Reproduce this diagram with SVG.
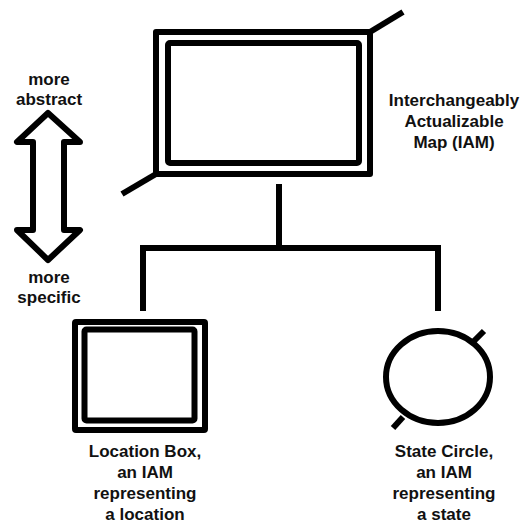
<svg xmlns="http://www.w3.org/2000/svg" width="525" height="527" viewBox="0 0 525 527">
<style>
.ln{stroke:#000;fill:none;stroke-width:6}
.t{font-family:"Liberation Sans",Arial,sans-serif;font-weight:bold;font-size:17px;fill:#111;text-anchor:middle}
</style>
<rect width="525" height="527" fill="#fff"/>
<g id="iam">
<rect class="ln" x="156" y="32" width="214" height="142" stroke-linejoin="round"/>
<rect class="ln" x="168" y="43" width="191" height="120" rx="2" stroke-width="5.5"/>
<line class="ln" x1="370" y1="32" x2="403" y2="12"/>
<line class="ln" x1="156" y1="174" x2="122" y2="194"/>
<text class="t" x="454" y="106">Interchangeably</text>
<text class="t" x="454" y="127">Actualizable</text>
<text class="t" x="454" y="148">Map (IAM)</text>
</g>
<g id="scale">
<polygon class="ln" points="48,113 17,142 33,142 33,230 17,230 48,260 80,230 64,230 64,142 80,142" stroke-linejoin="round"/>
<text class="t" x="49" y="85">more</text>
<text class="t" x="49" y="105">abstract</text>
<text class="t" x="49" y="283">more</text>
<text class="t" x="49" y="303">specific</text>
</g>
<g id="connectors">
<polyline class="ln" points="279,184 279,248"/>
<polyline class="ln" points="143,311 143,248 438,248 438,311"/>
</g>
<g id="location">
<rect class="ln" x="75" y="322" width="130" height="108" rx="1"/>
<rect class="ln" x="84.5" y="329.5" width="110" height="91" rx="2" stroke-width="5"/>
<text class="t" x="145" y="457">Location Box,</text>
<text class="t" x="145" y="478">an IAM</text>
<text class="t" x="145" y="499">representing</text>
<text class="t" x="145" y="520">a location</text>
</g>
<g id="state">
<ellipse class="ln" cx="438" cy="377" rx="52" ry="46" stroke-width="5"/>
<line class="ln" x1="473" y1="342" x2="484" y2="331" stroke-width="5"/>
<line class="ln" x1="403" y1="417" x2="393" y2="428" stroke-width="5"/>
<text class="t" x="444" y="457">State Circle,</text>
<text class="t" x="444" y="478">an IAM</text>
<text class="t" x="444" y="499">representing</text>
<text class="t" x="444" y="520">a state</text>
</g>
</svg>
